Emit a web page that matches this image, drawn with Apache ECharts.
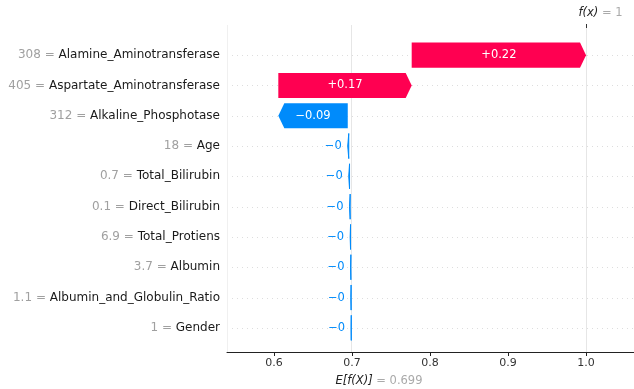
<!DOCTYPE html>
<html>
<head>
<meta charset="utf-8">
<script src="https://cdn.jsdelivr.net/npm/echarts@6/dist/echarts.min.js"></script>
<style>
  html, body { margin: 0; padding: 0; background: #fff; }
  #chart { width: 634px; height: 389px; }
</style>
</head>
<body>
<div id="chart"></div>
<script>
// Waterfall of feature contributions, top feature first
const features = [
  'Alamine_Aminotransferase',
  'Aspartate_Aminotransferase',
  'Alkaline_Phosphotase',
  'Age',
  'Total_Bilirubin',
  'Direct_Bilirubin',
  'Total_Protiens',
  'Albumin',
  'Albumin_and_Globulin_Ratio',
  'Gender'
];
const featureValues = ['308', '405', '312', '18', '0.7', '0.1', '6.9', '3.7', '1.1', '1'];
const contributions = [0.2235, 0.171, -0.089, -0.0013, -0.001, -0.0008, -0.0005, -0.0004, -0.0003, -0.0002];
const baseValue = 0.699;
const outputValue = 1;
const xTicks = [0.6, 0.7, 0.8, 0.9, 1.0];

const POS = '#ff0051';
const NEG = '#008bfb';
const FONT = 'DejaVu Sans';

// accumulate from the bottom row (starting at the expected value) upward
const segments = new Array(features.length);
let running = baseValue;
for (let i = features.length - 1; i >= 0; i--) {
  const start = running;
  const end = running + contributions[i];
  segments[i] = [i, start, end, contributions[i]];
  running = end;
}

function fmt(v) {
  const s = Math.abs(v).toFixed(2).replace(/\.?0+$/, '');
  return (v < 0 ? '\u2212' : '+') + s;
}

const chart = echarts.init(document.getElementById('chart'), null, { renderer: 'canvas' });

function renderBar(params, api) {
  const i = api.value(0);
  const s = api.value(1);
  const e = api.value(2);
  const v = api.value(3);
  const p0 = api.coord([s, i]);
  const p1 = api.coord([e, i]);
  const band = api.size([0, 1])[1];
  const h = band * 0.83;
  const y = p0[1];
  const x0 = p0[0], x1 = p1[0];
  const dir = x1 >= x0 ? 1 : -1;
  const w = Math.abs(x1 - x0);
  const tip = Math.min(6, w);
  const color = v >= 0 ? POS : NEG;
  const pts = [
    [x0, y - h / 2],
    [x1 - dir * tip, y - h / 2],
    [x1, y],
    [x1 - dir * tip, y + h / 2],
    [x0, y + h / 2]
  ];
  const children = [{
    type: 'polygon',
    shape: { points: pts },
    style: { fill: color, stroke: w < 4 ? color : null, lineWidth: w < 4 ? 1 : 0 }
  }];
  const label = fmt(v);
  if (w > 40) {
    children.push({
      type: 'text',
      style: {
        text: label, x: (x0 + x1) / 2, y: y,
        fill: '#fff', font: '11.5px "' + FONT + '"',
        align: 'center', verticalAlign: 'middle'
      }
    });
  } else {
    const left = Math.min(x0, x1);
    children.push({
      type: 'text',
      style: {
        text: label, x: left - 6, y: y,
        fill: color, font: '11.5px "' + FONT + '"',
        align: 'right', verticalAlign: 'middle'
      }
    });
  }
  return { type: 'group', children: children };
}

// dotted row guides, reference verticals and the f(x) / E[f(X)] captions
function renderGuides(params, api) {
  const cs = params.coordSys;
  const top = cs.y - 15;
  const bottom = cs.y + cs.height + 9;
  const children = [];
  for (let i = 0; i < features.length; i++) {
    const yy = Math.round(api.coord([baseValue, i])[1]) + 0.5;
    children.push({
      type: 'line',
      shape: { x1: cs.x, y1: yy, x2: cs.x + cs.width, y2: yy },
      style: { stroke: '#dddddd', lineWidth: 1, lineDash: [1, 4] }
    });
  }
  children.push({
    type: 'line',
    shape: { x1: cs.x + 0.5, y1: top, x2: cs.x + 0.5, y2: bottom },
    style: { stroke: '#f0f0f0', lineWidth: 1 }
  });
  const xb = Math.round(api.coord([baseValue, 0])[0]) + 0.5;
  const xf = Math.round(api.coord([outputValue, 0])[0]) + 0.5;
  children.push({
    type: 'line',
    shape: { x1: xb, y1: top, x2: xb, y2: bottom },
    style: { stroke: '#e6e6e6', lineWidth: 1 }
  });
  children.push({
    type: 'line',
    shape: { x1: xf, y1: top, x2: xf, y2: bottom },
    style: { stroke: '#e6e6e6', lineWidth: 1 }
  });
  children.push({
    type: 'line',
    shape: { x1: xf, y1: top - 1, x2: xf, y2: top + 3 },
    style: { stroke: '#333', lineWidth: 1 }
  });
  children.push({
    type: 'text',
    style: {
      x: xf - 8, y: top - 12,
      text: '{f|f(x)}{g| = ' + outputValue + '}',
      align: 'left', verticalAlign: 'middle',
      rich: {
        f: { fill: '#222', font: 'italic 11.5px "' + FONT + '"' },
        g: { fill: '#aaa', font: '11.5px "' + FONT + '"' }
      }
    }
  });
  children.push({
    type: 'text',
    style: {
      x: xb - 16, y: bottom + 29,
      text: '{f|E[f(X)]}{g| = ' + baseValue + '}',
      align: 'left', verticalAlign: 'middle',
      rich: {
        f: { fill: '#222', font: 'italic 11.5px "' + FONT + '"' },
        g: { fill: '#aaa', font: '11.5px "' + FONT + '"' }
      }
    }
  });
  return { type: 'group', children: children };
}

chart.setOption({
  animation: false,
  backgroundColor: '#fff',
  grid: { left: 227, right: 0, top: 40, bottom: 46, containLabel: false },
  xAxis: {
    type: 'value',
    min: 0.5397,
    max: 1.0615,
    offset: 9,
    splitLine: { show: false },
    axisLine: { show: true, lineStyle: { color: '#222', width: 1 } },
    axisTick: { show: true, customValues: xTicks, length: 4, lineStyle: { color: '#222' } },
    axisLabel: {
      customValues: xTicks,
      formatter: v => v.toFixed(1),
      color: '#333',
      fontFamily: FONT,
      fontSize: 11,
      margin: 6
    }
  },
  yAxis: {
    type: 'category',
    inverse: true,
    data: features,
    axisLine: { show: false },
    axisTick: { show: false },
    splitLine: { show: false },
    axisLabel: {
      margin: 7,
      formatter: (value, index) => '{v|' + featureValues[index] + ' = }{n|' + value + '}',
      rich: {
        v: { color: '#a0a0a0', fontFamily: FONT, fontSize: 12 },
        n: { color: '#1a1a1a', fontFamily: FONT, fontSize: 12 }
      }
    }
  },
  series: [
    {
      type: 'custom',
      name: 'guides',
      renderItem: renderGuides,
      data: [[0]],
      encode: { x: [], y: [] },
      z: 1,
      silent: true
    },
    {
      type: 'custom',
      name: 'contributions',
      renderItem: renderBar,
      data: segments,
      encode: { x: [1, 2], y: 0 },
      z: 2,
      silent: true
    }
  ]
});
</script>
</body>
</html>
